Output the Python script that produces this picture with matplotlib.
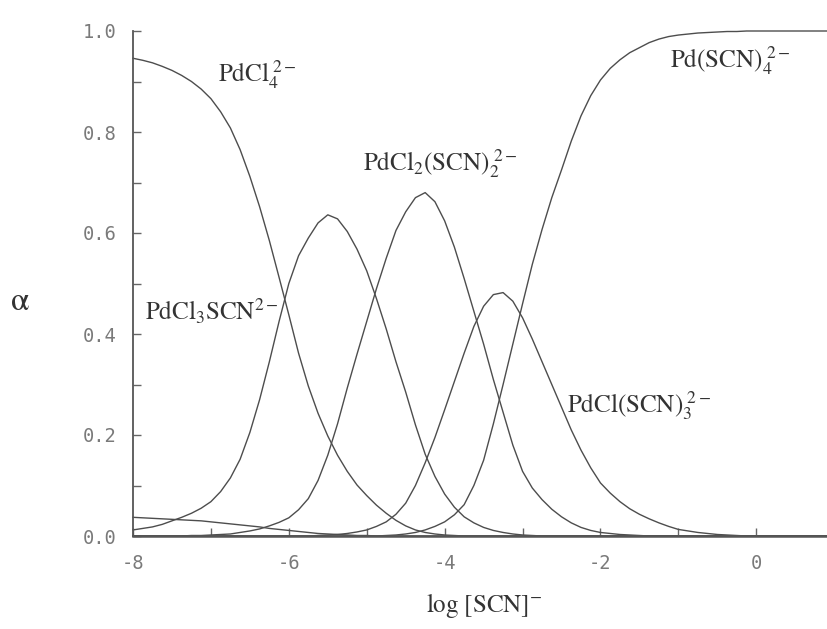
import matplotlib
matplotlib.use("Agg")
import matplotlib.pyplot as plt

plt.rcParams['mathtext.fontset'] = 'stix'
plt.rcParams['font.family'] = ['Liberation Serif', 'DejaVu Serif']

# log [SCN-] sampling positions
log_scn = [-8.0, -7.875, -7.75, -7.625, -7.5, -7.375, -7.25, -7.125,
           -7.0, -6.875, -6.75, -6.625, -6.5, -6.375, -6.25, -6.125,
           -6.0, -5.875, -5.75, -5.625, -5.5, -5.375, -5.25, -5.125,
           -5.0, -4.875, -4.75, -4.625, -4.5, -4.375, -4.25, -4.125,
           -4.0, -3.875, -3.75, -3.625, -3.5, -3.375, -3.25, -3.125,
           -3.0, -2.875, -2.75, -2.625, -2.5, -2.375, -2.25, -2.125,
           -2.0, -1.875, -1.75, -1.625, -1.5, -1.375, -1.25, -1.125,
           -1.0, -0.875, -0.75, -0.625, -0.5, -0.375, -0.25, -0.125,
           0.0, 0.25, 0.5, 0.75, 0.92]

# fraction (alpha) of each species
pdcl4 = [0.946, 0.942, 0.937, 0.930, 0.922, 0.912, 0.900, 0.885, 0.866, 0.840,
         0.808, 0.765, 0.712, 0.652, 0.585, 0.512, 0.438, 0.362, 0.297, 0.243,
         0.198, 0.160, 0.128, 0.101, 0.080, 0.061, 0.045, 0.031, 0.020, 0.012,
         0.007, 0.004, 0.002, 0.001] + [0.0] * 35
pdcl3scn = [0.012, 0.015, 0.018, 0.023, 0.030, 0.037, 0.045, 0.055, 0.068, 0.088,
            0.115, 0.152, 0.205, 0.270, 0.345, 0.425, 0.500, 0.555, 0.590, 0.620,
            0.636, 0.628, 0.603, 0.568, 0.525, 0.470, 0.410, 0.345, 0.285, 0.220,
            0.162, 0.118, 0.083, 0.057, 0.038, 0.026, 0.017, 0.011, 0.007, 0.004,
            0.002, 0.001] + [0.0] * 27
pdcl2scn2 = [0.0] * 6 + [
    0.001, 0.001, 0.002, 0.003, 0.004, 0.007, 0.010, 0.014, 0.020, 0.027,
    0.036, 0.052, 0.074, 0.110, 0.160, 0.222, 0.293, 0.360, 0.425, 0.490,
    0.550, 0.605, 0.642, 0.670, 0.680, 0.662, 0.624, 0.572, 0.510, 0.445,
    0.380, 0.310, 0.245, 0.180, 0.128, 0.095, 0.072, 0.053, 0.038, 0.026,
    0.017, 0.011, 0.007, 0.005, 0.003, 0.002, 0.001] + [0.0] * 16
pdclscn3 = [0.0] * 19 + [
    0.001, 0.002, 0.003, 0.005, 0.008, 0.012, 0.019, 0.028, 0.043, 0.065,
    0.100, 0.145, 0.195, 0.250, 0.306, 0.362, 0.415, 0.455, 0.478, 0.482,
    0.465, 0.432, 0.390, 0.345, 0.300, 0.255, 0.210, 0.170, 0.135, 0.105,
    0.085, 0.068, 0.054, 0.043, 0.034, 0.026, 0.019, 0.013, 0.010, 0.007,
    0.005, 0.003, 0.002, 0.001] + [0.0] * 6
pdscn4 = [0.0] * 26 + [
    0.001, 0.002, 0.004, 0.007, 0.012, 0.019, 0.028, 0.042, 0.062, 0.100,
    0.150, 0.222, 0.300, 0.380, 0.460, 0.538, 0.607, 0.670, 0.725, 0.782,
    0.832, 0.872, 0.903, 0.926, 0.943, 0.957, 0.967, 0.977, 0.984, 0.989,
    0.992, 0.994, 0.996, 0.997, 0.998, 0.999, 0.999, 1.0, 1.0,
    1.0, 1.0, 1.0, 1.0]
# minor unlabelled species along the bottom
minor_species = [0.037, 0.036, 0.035, 0.034, 0.033, 0.032, 0.031, 0.030, 0.028, 0.026,
                 0.024, 0.022, 0.020, 0.018, 0.015, 0.013, 0.011, 0.009, 0.007, 0.005,
                 0.004, 0.003, 0.002, 0.001, 0.001] + [0.0] * 44

x_ticks = [-8, -6, -4, -2, 0]
x_tick_labels = ['-8', '-6', '-4', '-2', '0']
x_minor = [-7, -5, -3, -1]
y_ticks = [0.0, 0.2, 0.4, 0.6, 0.8, 1.0]
y_tick_labels = ['0.0', '0.2', '0.4', '0.6', '0.8', '1.0']
y_minor = [0.1, 0.3, 0.5, 0.7, 0.9]

line_col = '#4d4d4d'
tick_col = '#7a7a7a'

fig = plt.figure(figsize=(8.28, 6.29), dpi=100)
ax = fig.add_axes([133 / 828, 93 / 629, 695 / 828, 505 / 629])

for series in [pdcl4, pdcl3scn, pdcl2scn2, pdclscn3, pdscn4, minor_species]:
    assert len(series) == len(log_scn)
    ax.plot(log_scn, series, color=line_col, lw=1.0, clip_on=False)

ax.set_xlim(-8, 0.92)
ax.set_ylim(0, 1.0)
ax.spines['top'].set_visible(False)
ax.spines['right'].set_visible(False)
ax.spines['left'].set_color('#555555')
ax.spines['bottom'].set_color('#555555')
ax.spines['left'].set_linewidth(1.3)
ax.spines['bottom'].set_linewidth(1.8)

ax.set_xticks(x_ticks)
ax.set_xticklabels(x_tick_labels)
ax.set_xticks(x_minor, minor=True)
ax.set_yticks(y_ticks)
ax.set_yticklabels(y_tick_labels)
ax.set_yticks(y_minor, minor=True)
ax.tick_params(which='both', direction='in', length=6, width=1, color='#666666')
ax.tick_params(axis='both', labelcolor=tick_col, labelsize=13.5)
ax.tick_params(axis='x', pad=13)
ax.tick_params(axis='y', pad=12)
for lab in ax.get_xticklabels() + ax.get_yticklabels():
    lab.set_family('DejaVu Sans Mono')

txt = dict(fontsize=18, color='#333333', va='baseline', ha='left')
ax.text(-6.91, 0.90, r'$\mathrm{PdCl_4^{\ 2-}}$', **txt)
ax.text(-5.05, 0.724, r'$\mathrm{PdCl_2(SCN)_2^{\ 2-}}$', **txt)
ax.text(-1.11, 0.928, r'$\mathrm{Pd(SCN)_4^{\ 2-}}$', **txt)
ax.text(-7.85, 0.428, r'$\mathrm{PdCl_3SCN^{2-}}$', **txt)
ax.text(-2.43, 0.244, r'$\mathrm{PdCl(SCN)_3^{\ 2-}}$', **txt)

fig.text(484 / 828, 1 - 605 / 629, r'$\mathrm{log\ [SCN]^{-}}$', fontsize=18,
         color='#333333', ha='center', va='center')
fig.text(20 / 828, 1 - 302 / 629, r'$\mathrm{\alpha}$', fontsize=24, color='#333333',
         ha='center', va='center')

fig.savefig('out.png', dpi=100, facecolor='white')
